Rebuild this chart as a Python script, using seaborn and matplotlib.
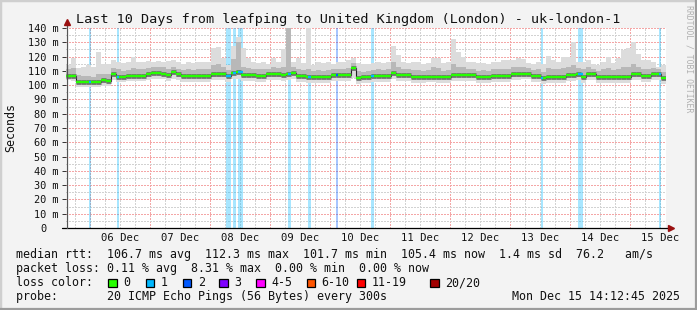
import numpy as np
import pandas as pd
import matplotlib
matplotlib.use("Agg")
import matplotlib.pyplot as plt
import matplotlib.dates as mdates
import seaborn as sns
from matplotlib.patches import Rectangle

# ---------------- data (2-hour bins, ms) ----------------
start_time = "2025-12-05 14:12:45"
end_time = "2025-12-15 14:12:45"
n_bins = 120

median_ms = [106.6,106.6,102.4,102.4,102.0,102.0,102.0,103.5,103.0,107.6,
             105.8,105.8,106.6,106.6,106.6,106.6,107.6,108.8,108.8,108.0,
             107.0,109.5,107.5,106.6,106.6,106.6,106.6,106.6,106.6,107.6,
             107.6,107.6,106.6,108.3,109.5,107.0,107.0,107.0,106.6,106.6,
             107.6,107.6,107.6,107.0,108.0,108.5,106.4,106.4,105.8,105.8,
             105.8,105.8,105.8,107.0,107.0,107.0,107.0,111.7,105.0,105.6,
             105.6,106.4,106.4,106.4,106.4,108.3,107.0,107.0,107.0,105.8,
             105.8,105.8,106.0,106.0,105.6,105.6,105.6,107.0,107.0,107.0,
             107.0,107.0,105.6,105.6,105.6,106.4,106.4,106.4,106.4,107.6,
             107.6,108.0,108.0,106.6,106.6,105.0,105.8,105.8,105.8,105.8,
             107.0,107.0,107.6,105.8,107.6,107.6,105.6,105.6,105.6,105.6,
             105.6,105.6,105.6,107.6,107.6,106.6,106.6,107.6,107.6,105.3]

smoke_max = [114.1,118.8,111.8,112.5,114.0,113.0,123.4,114.5,114.5,117.3,
             116.0,115.2,116.0,120.0,116.0,116.4,117.0,116.4,117.0,116.4,
             117.0,117.6,116.0,114.5,116.0,115.2,116.4,116.0,116.4,125.8,
             127.0,118.8,114.0,127.6,134.0,125.8,118.8,116.4,115.2,116.4,
             114.5,118.8,116.4,125.0,145.0,116.4,118.8,115.2,145.0,114.0,
             116.0,115.2,116.4,114.5,116.0,116.4,117.6,119.0,115.2,114.5,
             114.8,115.2,116.0,115.2,116.4,127.6,121.1,116.0,115.2,116.4,
             116.0,114.5,115.2,118.8,119.0,115.2,116.4,132.0,123.5,120.0,
             116.4,116.0,115.2,115.2,114.5,116.0,116.4,117.6,117.6,117.6,
             118.8,118.5,115.2,114.5,116.0,114.5,120.6,117.6,116.4,120.0,
             120.0,130.4,116.4,116.4,117.6,114.5,114.0,116.4,120.0,115.2,
             118.8,124.6,125.8,130.4,122.0,117.6,117.6,116.4,112.9,114.0]

smoke_upper = [111.5,112.0,107.0,106.5,106.5,106.0,108.0,107.5,107.5,112.0,
               111.0,110.0,110.5,112.0,111.0,111.0,112.0,113.0,112.5,112.5,
               111.5,113.0,111.5,110.5,111.0,110.5,111.0,111.0,111.0,114.0,
               115.0,112.5,110.5,118.0,130.0,113.0,112.0,111.5,111.0,111.0,
               111.5,112.5,112.0,113.0,145.0,112.5,111.5,110.5,111.5,110.0,
               110.5,110.0,110.5,111.0,111.5,111.5,112.0,115.5,110.0,109.5,
               110.0,110.5,111.0,110.5,111.0,116.0,112.5,111.5,111.0,110.5,
               110.5,110.0,110.5,113.0,112.0,110.0,110.5,115.0,113.0,112.5,
               111.5,111.5,110.0,110.5,110.0,111.0,111.0,111.5,111.5,112.5,
               113.0,113.0,112.0,110.5,111.0,109.5,112.0,111.0,111.0,112.0,
               112.5,114.0,112.0,111.0,112.5,111.5,110.0,111.0,112.0,110.5,
               111.5,113.0,113.0,114.5,113.0,111.5,111.5,112.0,111.0,109.5]

smoke_lower = [105.0,105.0,101.0,101.0,100.5,100.5,100.5,102.0,101.5,106.0,
               104.3,104.3,105.0,105.0,105.0,105.0,106.0,107.2,107.2,106.5,
               105.5,108.0,106.0,105.0,105.0,105.0,105.0,105.0,105.0,106.0,
               106.0,106.0,105.0,106.8,108.0,105.5,105.5,105.5,105.0,105.0,
               106.0,106.0,106.0,105.5,106.5,107.0,104.8,104.8,104.3,104.3,
               104.3,104.3,104.3,105.5,105.5,105.5,105.5,110.0,103.5,104.0,
               104.0,104.8,104.8,104.8,104.8,106.8,105.5,105.5,105.5,104.3,
               104.3,104.3,104.5,104.5,104.0,104.0,104.0,105.5,105.5,105.5,
               105.5,105.5,104.0,104.0,104.0,104.8,104.8,104.8,104.8,106.0,
               106.0,106.5,106.5,105.0,105.0,103.5,104.3,104.3,104.3,104.3,
               105.5,105.5,106.0,104.3,106.0,106.0,104.0,104.0,104.0,104.0,
               104.0,104.0,104.0,106.0,106.0,105.0,105.0,106.0,106.0,103.8]

smoke_min = [103.5,103.0,99.0,98.8,98.5,98.8,98.5,99.5,99.5,103.5,
             102.5,102.5,103.0,103.0,103.0,103.0,103.5,104.5,104.5,104.0,
             103.0,104.5,103.5,102.5,102.5,102.5,102.5,102.5,102.5,103.5,
             103.5,103.5,102.5,104.0,104.5,103.0,103.0,103.0,102.5,102.5,
             103.5,103.5,103.5,103.0,103.5,104.0,102.5,102.5,101.5,101.5,
             101.5,101.5,101.5,103.0,103.0,103.0,103.0,105.0,101.0,101.5,
             101.5,102.0,102.0,102.0,102.0,104.0,103.0,103.0,103.0,101.5,
             101.5,101.5,102.0,102.0,101.5,101.5,101.5,103.0,103.0,103.0,
             103.0,103.0,101.5,101.5,101.5,102.0,102.0,102.0,102.0,103.5,
             103.5,104.0,104.0,102.5,102.5,101.0,101.5,101.5,101.5,101.5,
             103.0,103.0,103.5,101.5,103.5,103.5,101.5,101.5,101.5,101.5,
             101.5,101.5,101.5,103.5,103.5,102.5,102.5,103.5,103.5,101.0]

loss_start = ["2025-12-05 23:20", "2025-12-06 10:29", "2025-12-08 06:24",
              "2025-12-08 09:04", "2025-12-08 11:12", "2025-12-09 07:12",
              "2025-12-09 15:12", "2025-12-10 02:24", "2025-12-10 16:16",
              "2025-12-13 12:24", "2025-12-14 03:12", "2025-12-15 11:20"]
loss_hours = [1.0, 0.8, 1.9, 1.3, 1.9, 1.1, 1.1, 0.8, 1.1, 0.8, 1.9, 0.9]
loss_count = [1, 1, 1, 1, 1, 1, 1, 2, 1, 1, 1, 1]

loss_labels = ["0", "1", "2", "3", "4-5", "6-10", "11-19", "20/20"]
loss_colors = ["#26ff00", "#00b8ff", "#0059ff", "#7e00ff",
               "#ff00ff", "#ff5500", "#ff0000", "#a10000"]

y_ticks = [0, 10, 20, 30, 40, 50, 60, 70, 80, 90, 100, 110, 120, 130, 140]
y_tick_labels = ["0\u00a0\u00a0"] + [f"{v} m" for v in y_ticks[1:]]

title = "Last 10 Days from leafping to United Kingdom (London) - uk-london-1"
line_rtt = "median rtt:  106.7 ms avg  112.3 ms max  101.7 ms min  105.4 ms now  1.4 ms sd  76.2   am/s"
line_loss = "packet loss: 0.11 % avg  8.31 % max  0.00 % min  0.00 % now"
line_probe = "probe:       20 ICMP Echo Pings (56 Bytes) every 300s"
stamp = "Mon Dec 15 14:12:45 2025"

# ---------------- figure ----------------
sns.set_theme(style="white")
plt.rcParams["font.family"] = ["DejaVu Sans Mono", "DejaVu Sans"]

W, H = 697, 310
fig = plt.figure(figsize=(W / 100, H / 100), dpi=100)
fig.patch.set_facecolor("#f3f3f3")

def fx(px):
    return px / W

def fy(py):
    return 1 - py / H

AX_L, AX_R, AX_T, AX_B = 66, 666, 28, 228
ax = fig.add_axes([fx(AX_L), fy(AX_B), (AX_R - AX_L) / W, (AX_B - AX_T) / H])
ax.set_facecolor("white")

t0 = pd.Timestamp(start_time)
t1 = pd.Timestamp(end_time)
edges = mdates.date2num(pd.date_range(t0, t1, periods=n_bins + 1))
ax.set_xlim(edges[0], edges[-1])
ax.set_ylim(0, 140)

def ext(a):
    return np.append(np.asarray(a, float), a[-1])

# grid (dotted, crisp) underneath the data
grid_kw = dict(lw=1.0, linestyle=(0, (1, 1)), zorder=0.5, antialiased=False)
for t in pd.date_range(t0.ceil("6h"), t1, freq="6h"):
    xv = mdates.date2num(t)
    col = "#f4a6a6" if t.hour == 0 else "#d2d2d2"
    ax.axvline(xv, color=col, **grid_kw)
for v in range(5, 141, 5):
    col = "#f4a6a6" if v % 10 == 0 else "#d2d2d2"
    ax.axhline(v, color=col, **grid_kw)

# loss background bars
for s, h, c in zip(loss_start, loss_hours, loss_count):
    a = mdates.date2num(pd.Timestamp(s))
    b = mdates.date2num(pd.Timestamp(s) + pd.Timedelta(hours=h))
    idx = {1: 1, 2: 2, 3: 3}.get(c, 4)
    ax.axvspan(a, b, color=loss_colors[idx], alpha=0.34, lw=0, zorder=1)

# smoke
ax.fill_between(edges, ext(smoke_min), ext(smoke_max), step="post",
                color="#dcdcdc", lw=0, zorder=2)
ax.fill_between(edges, ext(smoke_lower), ext(smoke_upper), step="post",
                color="#b8b8b8", lw=0, zorder=2.1)

# median line
sns.lineplot(x=edges, y=ext(median_ms), drawstyle="steps-post", color="#202020",
             lw=0.8, ax=ax, zorder=4, estimator=None, sort=False)
ax.hlines(median_ms, edges[:-1], edges[1:], colors="#6e6e6e", lw=3.4, zorder=4.5)
ax.hlines(median_ms, edges[:-1], edges[1:], colors=loss_colors[0], lw=1.7, zorder=5)
for s, h, c in zip(loss_start, loss_hours, loss_count):
    a = mdates.date2num(pd.Timestamp(s))
    b = mdates.date2num(pd.Timestamp(s) + pd.Timedelta(hours=h))
    i = int(np.searchsorted(edges, (a + b) / 2) - 1)
    idx = {1: 1, 2: 2, 3: 3}.get(c, 4)
    ax.hlines(median_ms[i], a, b, colors=loss_colors[idx], lw=1.7, zorder=5.5)

# axes cosmetics
for sp in ax.spines.values():
    sp.set_visible(False)
ax.grid(False)
ax.set_yticks(y_ticks)
ax.set_yticklabels(y_tick_labels)
noon = pd.date_range(pd.Timestamp("2025-12-06 12:00"), t1, freq="1D")
ax.set_xticks(mdates.date2num(noon))
ax.set_xticklabels([t.strftime("%d Dec") for t in noon])
ax.tick_params(axis="y", length=2.9, width=0.7, color="#333333", pad=2.2,
               labelsize=7.4, labelcolor="#111111", left=True)
ax.tick_params(axis="x", length=0, pad=3.5, labelsize=7.6, labelcolor="#111111")
ax.set_xlabel("")
ax.set_ylabel("")

# axis lines with arrows
ax.plot([-0.006, 1.008], [0, 0], transform=ax.transAxes, color="black",
        lw=0.9, clip_on=False, zorder=8)
ax.plot([1.009], [0], transform=ax.transAxes, marker=">", ms=4.2,
        color="#9a1010", clip_on=False, zorder=9)
ax.plot([0.0015, 0.0015], [0, 1.028], transform=ax.transAxes, color="#555555",
        lw=0.9, clip_on=False, zorder=8)
ax.plot([0.0015], [1.028], transform=ax.transAxes, marker="^", ms=4.2,
        color="#9a1010", clip_on=False, zorder=9)

# texts
fig.text(fx(348.5), fy(19), title, ha="center", va="center", fontsize=9.7,
         color="#111111")
fig.text(fx(10.5), fy(128), "Seconds", rotation=90, ha="center", va="center",
         fontsize=8.4, color="#111111")
fig.text(fx(688.5), fy(5), "RRDTOOL / TOBI OETIKER", rotation=270, ha="center",
         va="top", fontsize=5.9, color="#b0b0b0")

leg_fs = 8.4
fig.text(fx(16), fy(258), line_rtt, ha="left", va="baseline", fontsize=leg_fs,
         color="#111111")
fig.text(fx(16), fy(272), line_loss, ha="left", va="baseline", fontsize=leg_fs,
         color="#111111")
fig.text(fx(16), fy(286), "loss color:", ha="left", va="baseline",
         fontsize=leg_fs, color="#111111")
fig.text(fx(16), fy(300), line_probe, ha="left", va="baseline", fontsize=leg_fs,
         color="#111111")
fig.text(fx(680), fy(300), stamp, ha="right", va="baseline", fontsize=leg_fs,
         color="#111111")

box_x = [108, 145.7, 182.7, 219.3, 256, 306.7, 356.7, 430]
for bx, lab, col in zip(box_x, loss_labels, loss_colors):
    fig.add_artist(Rectangle((fx(bx), fy(287)), 8.5 / W, 8.5 / H,
                             transform=fig.transFigure, facecolor=col,
                             edgecolor="black", lw=0.9))
    fig.text(fx(bx + 15), fy(286), lab, ha="left", va="baseline",
             fontsize=leg_fs, color="#111111")

# frame
fig.add_artist(Rectangle((0, 0), 1, 1, transform=fig.transFigure, fill=False,
                         edgecolor="#cfcfcf", lw=2.5))
fig.add_artist(plt.Line2D([0, 1], [fy(309), fy(309)], transform=fig.transFigure,
                          color="#9c9c9c", lw=1.6))
fig.add_artist(plt.Line2D([fx(696), fx(696)], [0, 1], transform=fig.transFigure,
                          color="#9c9c9c", lw=1.6))

fig.savefig("out.png", dpi=100, facecolor=fig.get_facecolor())
